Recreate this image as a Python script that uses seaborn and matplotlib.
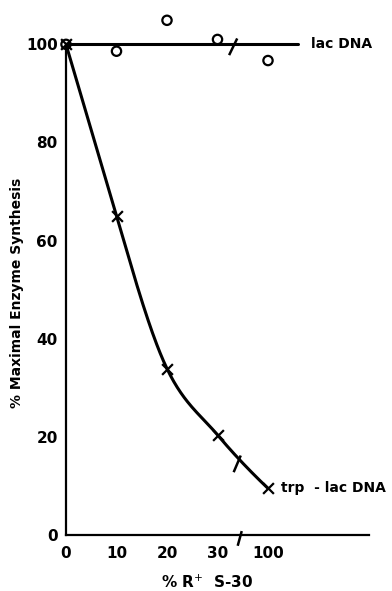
import numpy as np
import pandas as pd
import matplotlib
matplotlib.use("Agg")
import matplotlib.pyplot as plt
import seaborn as sns

# ---- data ----
x_labels = ["0", "10", "20", "30", "100"]
x_pos = [0, 10, 20, 30, 40]
lac = [100, 98.6, 104.9, 101.0, 96.7]
trp = [100, 65.0, 33.9, 20.4, 9.5]
lac_fit_level = 100
y_ticks = [0, 20, 40, 60, 80, 100]

sns.set_theme(style="white")
plt.rcParams["font.family"] = ["DejaVu Sans"]
plt.rcParams["text.color"] = "black"

fig = plt.figure(figsize=(3.92, 5.91), dpi=100)
ax = fig.add_axes([66 / 392, 1 - 535 / 591, (369 - 66) / 392, 525 / 591])
ax.set_xlim(0, 60)
ax.set_ylim(0, 107)

# smooth hand-drawn-style curve through the trp points (drawing only)
def hermite_curve(x, y, n=60):
    x = np.asarray(x, float); y = np.asarray(y, float)
    h = np.diff(x); d = np.diff(y) / h
    m = np.empty_like(y)
    m[0] = d[0]
    m[1] = d[0]                                  # first segment straight
    m[2] = 0.45 * d[1] + 0.55 * d[2]
    m[3] = 0.5 * (d[2] + d[3])
    m[4] = 0.9 * d[3]
    xs_all, ys_all = [], []
    for i in range(len(x) - 1):
        t = np.linspace(0, 1, n)
        h00 = 2 * t**3 - 3 * t**2 + 1; h10 = t**3 - 2 * t**2 + t
        h01 = -2 * t**3 + 3 * t**2; h11 = t**3 - t**2
        xs_all.append(x[i] + t * h[i])
        ys_all.append(h00 * y[i] + h10 * h[i] * m[i] + h01 * y[i + 1] + h11 * h[i] * m[i + 1])
    return np.concatenate(xs_all), np.concatenate(ys_all)

cx, cy = hermite_curve(x_pos, trp)
curve_df = pd.DataFrame({"x": cx, "y": cy})
sns.lineplot(data=curve_df, x="x", y="y", ax=ax, color="black", lw=2.2, sort=False)

lac_line = pd.DataFrame({"x": [0, 46], "y": [lac_fit_level, lac_fit_level]})
sns.lineplot(data=lac_line, x="x", y="y", ax=ax, color="black", lw=2.2)

df_lac = pd.DataFrame({"x": x_pos, "y": lac})
df_trp = pd.DataFrame({"x": x_pos, "y": trp})
sns.scatterplot(data=df_lac, x="x", y="y", ax=ax, marker="o", s=45,
                facecolor="none", edgecolor="black", linewidth=1.6, zorder=5, clip_on=False)
sns.scatterplot(data=df_trp, x="x", y="y", ax=ax, marker="x", s=60,
                color="black", linewidth=1.6, zorder=5, clip_on=False)

# break marks
bk = dict(color="black", lw=1.8, clip_on=False, solid_capstyle="butt")
ax.plot([32.3, 33.9], [97.8, 101.2], **bk)          # on lac line
ax.plot([34.0, 34.8], [-2.2, 0.8], **bk)             # on x axis
ax.plot([33.2, 34.6], [12.8, 16.2], **bk)            # on trp curve

# labels at line ends
ax.text(48.5, 100, "lac DNA", fontsize=10, fontweight="bold", va="center", ha="left",
        color="black")
ax.text(42.5, 9.5, "trp  - lac DNA", fontsize=10, fontweight="bold", va="center", ha="left",
        color="black", clip_on=False)

# axes styling
for s in ["top", "right"]:
    ax.spines[s].set_visible(False)
for s in ["left", "bottom"]:
    ax.spines[s].set_linewidth(1.6)
    ax.spines[s].set_color("black")
ax.spines["left"].set_bounds(0, 100)
ax.set_xticks(x_pos)
ax.set_xticklabels(x_labels)
ax.set_yticks(y_ticks)
ax.set_yticklabels([str(v) for v in y_ticks])
ax.tick_params(direction="in", length=7, width=1.6, color="black", labelsize=11, pad=6)
ax.tick_params(axis="x", pad=8)
for lab in ax.get_xticklabels() + ax.get_yticklabels():
    lab.set_fontweight("bold")
    lab.set_color("black")
ax.set_xlabel("% R$^{+}$  S-30", fontsize=11, fontweight="bold", color="black")
ax.set_ylabel("% Maximal Enzyme Synthesis", fontsize=10, fontweight="bold", color="black")
ax.xaxis.set_label_coords(0.465, -0.074)
ax.yaxis.set_label_coords(-0.139, 0.461)

fig.savefig("out.png", dpi=100, facecolor="white")
